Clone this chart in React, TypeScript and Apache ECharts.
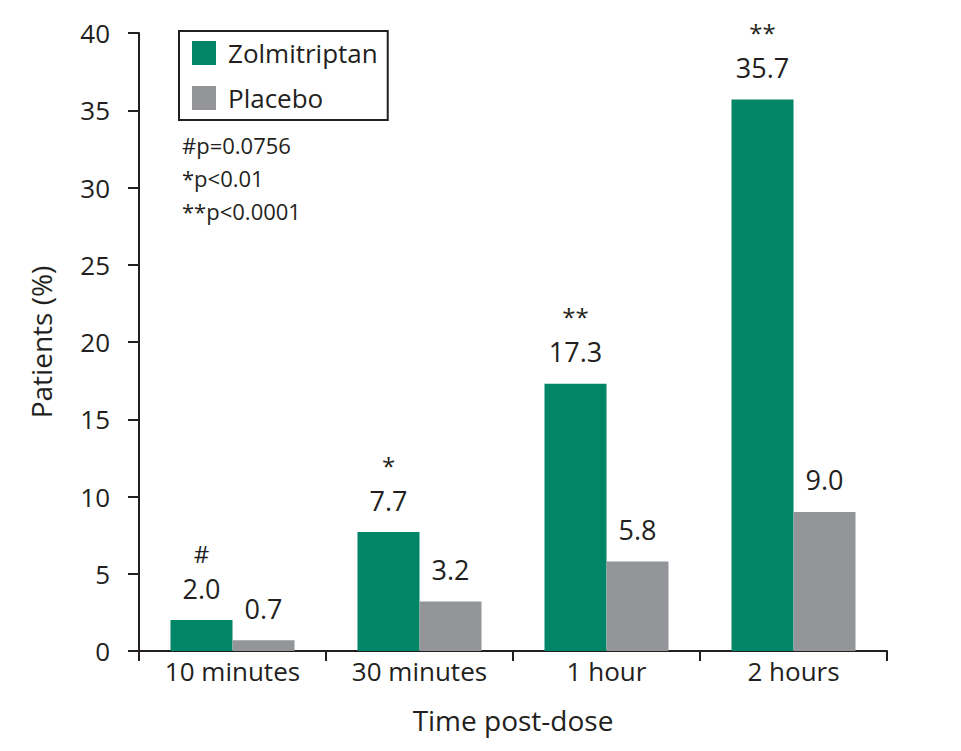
import React, { useEffect, useRef } from "react";
import * as echarts from "echarts";

const categories = ["10 minutes", "30 minutes", "1 hour", "2 hours"];
const zolmitriptan = [2.0, 7.7, 17.3, 35.7];
const placebo = [0.7, 3.2, 5.8, 9.0];
const significance = ["#", "*", "**", "**"];
const pValueNotes = ["#p=0.0756", "*p<0.01", "**p<0.0001"];

const GREEN = "#008566";
const GREY = "#939598";
const INK = "#231f20";
const FONT = "'Open Sans', 'Noto Sans', sans-serif";

const App = () => {
	const chartRef = useRef(null);

	useEffect(() => {
		document.body.style.margin = "0";
		if (!chartRef.current) return;
		const chart = echarts.init(chartRef.current, null, { renderer: "svg" });

		const option = {
			animation: false,
			textStyle: { fontFamily: FONT, color: INK },
			grid: { left: 139, right: 74, top: 33, bottom: 100, containLabel: false },
			legend: {
				orient: "vertical",
				left: 179,
				top: 31,
				padding: [9, 10, 9, 13],
				itemWidth: 24,
				itemHeight: 24,
				itemGap: 19,
				borderColor: INK,
				borderWidth: 2,
				icon: "rect",
				textStyle: { fontSize: 26, color: INK, fontFamily: FONT, padding: [0, 0, 0, 7] },
				data: ["Zolmitriptan", "Placebo"],
			},
			graphic: [
				{
					type: "text",
					left: 182,
					top: 128,
					style: {
						text: pValueNotes.join("\n"),
						fontSize: 22,
						lineHeight: 33,
						fill: INK,
						fontFamily: FONT,
					},
				},
			],
			xAxis: {
				type: "category",
				data: categories,
				name: "Time post-dose",
				nameLocation: "middle",
				nameGap: 55,
				nameTextStyle: { fontSize: 28, color: INK, fontFamily: FONT },
				axisLine: { lineStyle: { color: INK, width: 2 } },
				axisTick: { show: true, length: 10, lineStyle: { color: INK, width: 2 } },
				axisLabel: { fontSize: 26, color: INK, margin: 7, fontFamily: FONT },
			},
			yAxis: {
				type: "value",
				min: 0,
				max: 40,
				interval: 5,
				name: "Patients (%)",
				nameLocation: "middle",
				nameGap: 84,
				nameTextStyle: { fontSize: 28, color: INK, fontFamily: FONT },
				axisLine: { show: true, lineStyle: { color: INK, width: 2 } },
				axisTick: { show: true, length: 11, lineStyle: { color: INK, width: 2 } },
				axisLabel: { fontSize: 26, color: INK, margin: 29, fontFamily: FONT },
				splitLine: { show: false },
			},
			series: [
				{
					name: "Zolmitriptan",
					type: "bar",
					barWidth: 62,
					barGap: "0%",
					itemStyle: { color: GREEN },
					data: zolmitriptan,
					label: {
						show: true,
						position: "top",
						distance: 17,
						formatter: (p) =>
							`{s|${significance[p.dataIndex]}}\n{v|${p.value.toFixed(1)}}`,
						rich: {
							s: { fontSize: 24, lineHeight: 40, color: INK, fontFamily: FONT },
							v: { fontSize: 27, lineHeight: 30, color: INK, fontFamily: FONT },
						},
					},
				},
				{
					name: "Placebo",
					type: "bar",
					barWidth: 62,
					itemStyle: { color: GREY },
					data: placebo,
					label: {
						show: true,
						position: "top",
						distance: 17,
						fontSize: 27,
						lineHeight: 30,
						color: INK,
						fontFamily: FONT,
						formatter: (p) => p.value.toFixed(1),
					},
				},
			],
		};

		chart.setOption(option);
		return () => {
			chart.dispose();
		};
	}, []);

	return <div ref={chartRef} style={{ width: "961px", height: "751px" }} />;
};

export default App;
